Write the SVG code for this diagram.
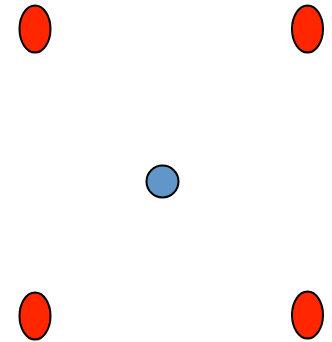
<svg xmlns="http://www.w3.org/2000/svg" width="332" height="342" viewBox="0 0 332 342">
<style>
.red{fill:#ff2600;stroke:#000;stroke-width:2}
.blue{fill:#6096c8;stroke:#000;stroke-width:2}
</style>
<rect width="332" height="342" fill="#fff"/>
<g id="connectors"></g>
<g id="n1"><ellipse class="red" cx="35" cy="29" rx="15.5" ry="23.5"/></g>
<g id="n2"><ellipse class="red" cx="307.5" cy="29" rx="15.5" ry="23.5"/></g>
<g id="n3"><circle class="blue" cx="162.5" cy="181.5" r="16"/></g>
<g id="n4"><ellipse class="red" cx="35" cy="316" rx="15.5" ry="23.5"/></g>
<g id="n5"><ellipse class="red" cx="307.5" cy="315" rx="15.5" ry="23.5"/></g>
</svg>
